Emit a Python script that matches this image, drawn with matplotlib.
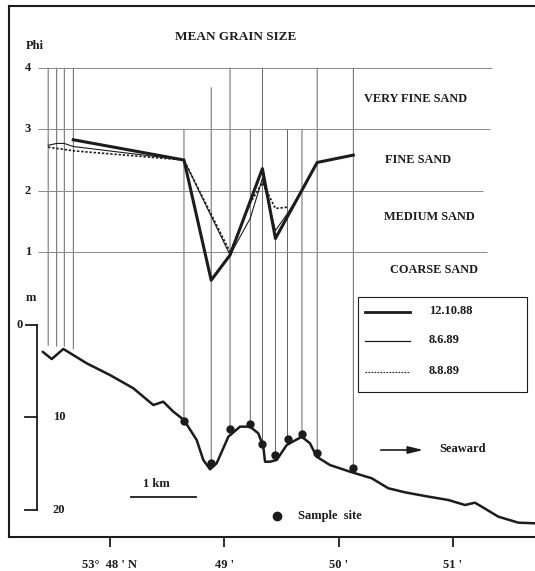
import matplotlib
matplotlib.use("Agg")
import matplotlib.pyplot as plt
import matplotlib.transforms as mtransforms
from matplotlib.patches import ConnectionPatch, Rectangle
from matplotlib.lines import Line2D

plt.rcParams['font.family'] = ['Liberation Serif', 'DejaVu Serif']
plt.rcParams['font.weight'] = 'bold'

W, H = 535, 571
INK = '#1c1c1c'

# x = minutes of latitude past 53 deg N
# bottom profile, depth in m
bathy_x = [47.411, 47.490, 47.592, 47.796, 48.000, 48.204, 48.379, 48.466, 48.554,
           48.647, 48.758, 48.816, 48.875, 48.933, 49.035, 49.137, 49.225, 49.297,
           49.341, 49.356, 49.399, 49.458, 49.546, 49.677, 49.749, 49.808, 49.924,
           50.099, 50.289, 50.434, 50.580, 50.755, 50.959, 51.105, 51.192, 51.251,
           51.396, 51.571, 51.717]
bathy_d = [2.89, 3.68, 2.59, 4.14, 5.41, 6.84, 8.65, 8.29, 9.37,
           10.27, 12.43, 14.59, 15.60, 14.95, 12.08, 10.99, 10.99, 11.71,
           13.16, 14.78, 14.78, 14.59, 12.97, 12.08, 12.79, 14.24, 15.14,
           15.86, 16.57, 17.65, 18.09, 18.49, 18.92, 19.46, 19.21, 19.64,
           20.72, 21.37, 21.44]

# sample sites on the bottom (dots) and phi where their guide line starts
site_x = [48.647, 48.885, 49.050, 49.227, 49.333, 49.447, 49.553, 49.679, 49.812, 50.128]
site_d = [10.35, 14.89, 11.28, 10.70, 12.86, 14.05, 12.36, 11.78, 13.87, 15.49]
site_top = [3.0, 3.68, 4.0, 3.0, 4.0, 1.24, 3.0, 3.0, 4.0, 4.0]

# near-shore sites, no dot drawn
shore_x = [47.459, 47.534, 47.600, 47.679]
shore_d = [2.2, 2.3, 2.3, 2.6]
shore_top = [4.0, 4.0, 4.0, 4.0]

# mean grain size (phi)
x_881012 = [47.679, 48.647, 48.885, 49.050, 49.333, 49.447, 49.812, 50.128]
phi_881012 = [2.83, 2.50, 0.54, 0.95, 2.36, 1.22, 2.46, 2.58]

x_890608 = [47.459, 47.534, 47.600, 47.679, 48.647, 49.050, 49.227, 49.333, 49.447,
            49.553, 49.655]
phi_890608 = [2.74, 2.77, 2.77, 2.72, 2.50, 0.95, 1.55, 2.20, 1.35, 1.63, 1.93]

x_890808 = [47.459, 47.679, 48.647, 49.050, 49.227, 49.333, 49.447, 49.553]
phi_890808 = [2.71, 2.65, 2.50, 1.00, 1.80, 2.13, 1.71, 1.73]

phi_grid = [1, 2, 3, 4]
grid_end = [51.295, 51.262, 51.324, 51.339]
classes = ["COARSE SAND", "MEDIUM SAND", "FINE SAND", "VERY FINE SAND"]

depth_ticks = [0, 10, 20]
lat_ticks = [48, 49, 50, 51]
lat_labels = ["53°  48 ' N", "49 '", "50 '", "51 '"]


def fp(x, y):
    # pixel position -> figure fraction
    return x / W, 1 - y / H


fig = plt.figure(figsize=(W / 100, H / 100), dpi=100)
ax = fig.add_axes([9 / W, 1 - 537 / H, (W - 9) / W, (537 - 6) / H])
ax.patch.set_alpha(0)
ax.set_xlim(47.1166, 51.7173)
ax.set_ylim(22.92, -34.49)
ax2 = ax.twinx()
ax2.set_ylim(-3.647, 5.011)
for s in ax2.spines.values():
    s.set_visible(False)
ax2.set_yticks([])

for s in ['left', 'top', 'bottom']:
    ax.spines[s].set_linewidth(1.5)
    ax.spines[s].set_color(INK)
ax.spines['right'].set_visible(False)
ax.set_yticks([])
ax.set_xticks(lat_ticks)
ax.set_xticklabels(lat_labels, fontsize=9, fontweight='bold', color=INK)
ax.tick_params(axis='x', direction='out', length=7, width=1.3, pad=9, colors=INK)

# phi grid and labels
ax2.hlines(phi_grid, 47.370, grid_end, color='#8a8a8a', lw=0.7)
tphi = mtransforms.blended_transform_factory(ax2.transAxes, ax2.transData)
for p in phi_grid:
    ax2.text(0.0361, p, str(p), transform=tphi, ha='center', va='center',
             fontsize=9, color=INK)
class_y = [0.71, 1.57, 2.5, 3.49]
class_x = [434, 429.5, 418, 415.5]
for name, cy, cx in zip(classes, class_y, class_x):
    ax2.text((cx - 9) / (W - 9), cy, name, transform=tphi, ha='center', va='center',
             fontsize=8.8, color=INK)

# guide lines from grain size panel down to the sampling points
for xs, tops, ds in [(shore_x, shore_top, shore_d), (site_x, site_top, site_d)]:
    for x, t, d in zip(xs, tops, ds):
        con = ConnectionPatch(xyA=(x, t), coordsA=ax2.transData,
                              xyB=(x, d), coordsB=ax.transData,
                              color='#4a4a4a', lw=0.6, zorder=-1)
        fig.add_artist(con)

ax2.plot(x_890608, phi_890608, color=INK, lw=0.8)
ax2.plot(x_890808, phi_890808, color=INK, lw=1.2, ls=(0, (1.4, 1.1)))
ax2.plot(x_881012, phi_881012, color=INK, lw=2.2, solid_joinstyle='round')

# bottom profile
ax.plot(bathy_x, bathy_d, color=INK, lw=1.8, solid_joinstyle='round',
        solid_capstyle='round')
ax.plot(site_x, site_d, 'o', color=INK, ms=5)

# depth axis
tdep = mtransforms.blended_transform_factory(ax.transAxes, ax.transData)
xa = (37 - 9) / (W - 9)
ax.plot([xa, xa], [0, 20], transform=tdep, color=INK, lw=1.3)
for d in depth_ticks:
    x0 = (26 - 9) / (W - 9) if d == 0 else (25 - 9) / (W - 9)
    ax.plot([x0, xa], [d, d], transform=tdep, color=INK, lw=1.3)
ax.text((20 - 9) / (W - 9), 0, "0", transform=tdep, ha='center', va='center',
        fontsize=9, color=INK)
for d in depth_ticks[1:]:
    ax.text((59 - 9) / (W - 9), d, str(d), transform=tdep, ha='center', va='center',
            fontsize=9, color=INK)

# titles and labels
fig.text(*fp(236, 37), "MEAN GRAIN SIZE", ha='center', va='center', fontsize=9.5, color=INK)
fig.text(*fp(35, 46), "Phi", ha='center', va='center', fontsize=9, color=INK)
fig.text(*fp(30.5, 298), "m", ha='center', va='center', fontsize=9, color=INK)

# legend box
fig.add_artist(Rectangle(fp(358.3, 391.7), (526.7 - 358.3) / W, (391.7 - 297.3) / H,
                         transform=fig.transFigure, fill=False, lw=0.8, ec=INK))
leg = [("12.10.88", 311.7, 2.0, '-'), ("8.6.89", 340.7, 0.9, '-'),
       ("8.8.89", 371.7, 0.8, (0, (1.5, 1.2)))]
for lab, yy, lw, ls in leg:
    x0, y0 = fp(365, yy)
    x1, _ = fp(409.5, yy)
    fig.add_artist(Line2D([x0, x1], [y0, y0], transform=fig.transFigure,
                          color=INK, lw=lw, ls=ls))
    fig.text(*fp(429, yy - 1), lab, ha='left', va='center', fontsize=9, color=INK)

# seaward arrow
ax.annotate('', xy=fp(426, 450), xytext=fp(378, 450), xycoords='figure fraction',
            textcoords='figure fraction',
            arrowprops=dict(arrowstyle='-|>,head_length=0.9,head_width=0.22',
                            lw=1.2, color=INK))
fig.text(*fp(439, 449), "Seaward", ha='left', va='center', fontsize=9, color=INK)

# scale bar
fig.text(*fp(156.5, 484), "1 km", ha='center', va='center', fontsize=9, color=INK)
xb0, yb = fp(131, 497)
xb1, _ = fp(196, 497)
fig.add_artist(Line2D([xb0, xb1], [yb, yb], transform=fig.transFigure, color=INK, lw=1.3))

# sample site key
sx, sy = fp(276.7, 516)
fig.add_artist(Line2D([sx], [sy], transform=fig.transFigure, marker='o', ms=6,
                      color=INK, ls='none'))
fig.text(*fp(298, 516), "Sample  site", ha='left', va='center', fontsize=9, color=INK)

fig.savefig("out.png", dpi=100)
